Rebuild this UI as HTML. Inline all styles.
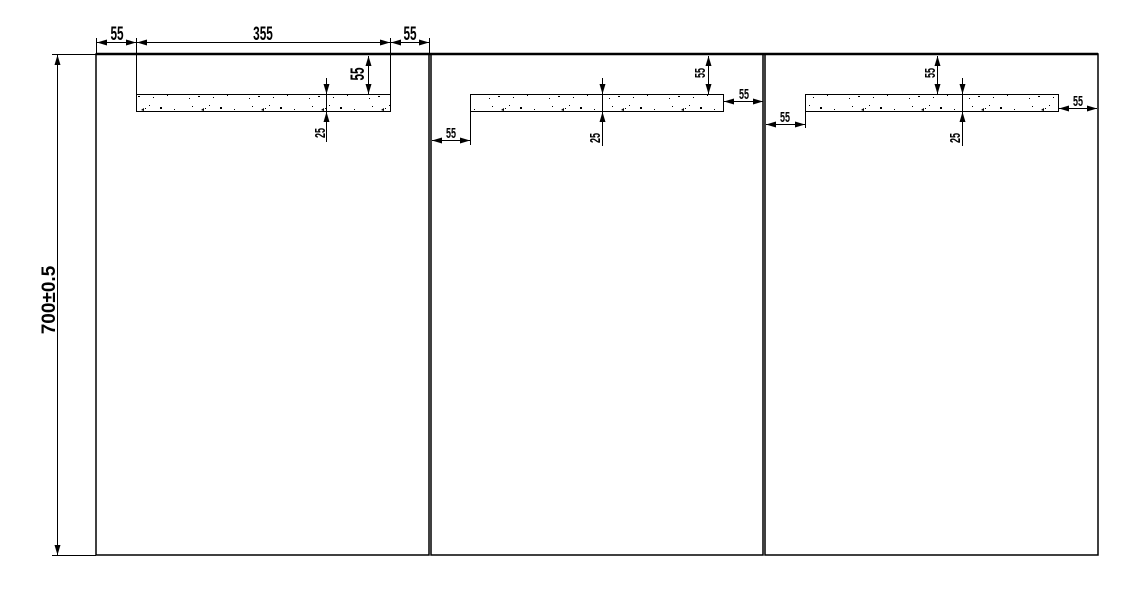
<!DOCTYPE html>
<html><head><meta charset="utf-8"><style>
html,body{margin:0;padding:0;background:#fff;}
svg{display:block}
text{font-family:"Liberation Sans",sans-serif;font-weight:bold;fill:#000}
</style></head><body>
<svg width="1132" height="603" viewBox="0 0 1132 603" xmlns="http://www.w3.org/2000/svg">
<defs>
<marker id="a" viewBox="0 0 10 6" refX="10" refY="3" markerWidth="10" markerHeight="6" markerUnits="userSpaceOnUse" orient="auto-start-reverse"><path d="M0,0 L10,3 L0,6 z" fill="#000"/></marker>
<pattern id="sp" width="60" height="17" patternUnits="userSpaceOnUse">
<g fill="#000"><rect x="5" y="9" width="1" height="1"/><rect x="12" y="4" width="1" height="1"/><rect x="18" y="11" width="2" height="1"/><rect x="25" y="6" width="1" height="1"/><rect x="33" y="12" width="1" height="1"/><rect x="40" y="5" width="2" height="2"/><rect x="47" y="10" width="1" height="1"/><rect x="54" y="7" width="1" height="1"/><rect x="9" y="13" width="1" height="1"/><rect x="29" y="3" width="1" height="1"/><path d="M21,8 l3,-2 l0,3z"/></g>
</pattern>
</defs>
<g stroke="#000" fill="none">
<rect x="96" y="54" width="333" height="501" stroke-width="1.5"/>
<rect x="431" y="54" width="332" height="501" stroke-width="1.5"/>
<rect x="765" y="54" width="333" height="501" stroke-width="1.5"/>
<line x1="96" y1="54" x2="1098" y2="54" stroke-width="2.5"/>
<rect x="136.5" y="94.5" width="254" height="17" fill="url(#sp)" stroke-width="1"/>
<rect x="470.5" y="94.5" width="253" height="17" fill="url(#sp)" stroke-width="1"/>
<rect x="805.5" y="94.5" width="253" height="17" fill="url(#sp)" stroke-width="1"/>
<g stroke-width="1">
<line x1="96.5" y1="38" x2="96.5" y2="54"/>
<line x1="136.5" y1="38" x2="136.5" y2="94"/>
<line x1="390.5" y1="38" x2="390.5" y2="94"/>
<line x1="429.5" y1="38" x2="429.5" y2="54"/>
<line x1="97" y1="42.5" x2="136" y2="42.5" marker-start="url(#a)" marker-end="url(#a)"/>
<line x1="137" y1="42.5" x2="390" y2="42.5" marker-start="url(#a)" marker-end="url(#a)"/>
<line x1="391" y1="42.5" x2="429" y2="42.5" marker-start="url(#a)" marker-end="url(#a)"/>
<line x1="52" y1="54.5" x2="96" y2="54.5"/>
<line x1="52" y1="555.5" x2="96" y2="555.5"/>
<line x1="57.5" y1="55" x2="57.5" y2="555" marker-start="url(#a)" marker-end="url(#a)"/>
<line x1="368.5" y1="56" x2="368.5" y2="94" marker-start="url(#a)" marker-end="url(#a)"/>
<line x1="326.5" y1="78" x2="326.5" y2="94" marker-end="url(#a)"/>
<line x1="326.5" y1="94" x2="326.5" y2="111"/>
<line x1="326.5" y1="142" x2="326.5" y2="112" marker-end="url(#a)"/>
<line x1="708.5" y1="56" x2="708.5" y2="94" marker-start="url(#a)" marker-end="url(#a)"/>
<line x1="724" y1="101.5" x2="763" y2="101.5" marker-start="url(#a)" marker-end="url(#a)"/>
<line x1="602.5" y1="78" x2="602.5" y2="94" marker-end="url(#a)"/>
<line x1="602.5" y1="94" x2="602.5" y2="111"/>
<line x1="602.5" y1="146" x2="602.5" y2="112" marker-end="url(#a)"/>
<line x1="470.5" y1="111" x2="470.5" y2="145"/>
<line x1="432" y1="140.5" x2="470" y2="140.5" marker-start="url(#a)" marker-end="url(#a)"/>
<line x1="937.5" y1="56" x2="937.5" y2="94" marker-start="url(#a)" marker-end="url(#a)"/>
<line x1="962.5" y1="78" x2="962.5" y2="94" marker-end="url(#a)"/>
<line x1="962.5" y1="94" x2="962.5" y2="111"/>
<line x1="962.5" y1="146" x2="962.5" y2="112" marker-end="url(#a)"/>
<line x1="805.5" y1="111" x2="805.5" y2="128"/>
<line x1="766" y1="124.5" x2="805" y2="124.5" marker-start="url(#a)" marker-end="url(#a)"/>
<line x1="1059" y1="108.5" x2="1097" y2="108.5" marker-start="url(#a)" marker-end="url(#a)"/>
</g>
</g>
<g font-size="19" text-anchor="middle">
<text transform="translate(117,40) scale(0.62,1)">55</text>
<text transform="translate(263,40) scale(0.62,1)">355</text>
<text transform="translate(410,40) scale(0.62,1)">55</text>
<text transform="translate(55,300) rotate(-90)" font-size="19" font-weight="normal">700±0.5</text>
<text transform="translate(364,74) rotate(-90) scale(0.62,1)">55</text>
</g>
<g font-size="15" text-anchor="middle">
<text transform="translate(325,133) rotate(-90) scale(0.6,1)">25</text>
<text transform="translate(705,73) rotate(-90) scale(0.6,1)">55</text>
<text transform="translate(744,99) scale(0.6,1)">55</text>
<text transform="translate(600,138) rotate(-90) scale(0.6,1)">25</text>
<text transform="translate(451,138) scale(0.6,1)">55</text>
<text transform="translate(935,73) rotate(-90) scale(0.6,1)">55</text>
<text transform="translate(960,138) rotate(-90) scale(0.6,1)">25</text>
<text transform="translate(785,122) scale(0.6,1)">55</text>
<text transform="translate(1078,106) scale(0.6,1)">55</text>
</g>
</svg>
</body></html>
